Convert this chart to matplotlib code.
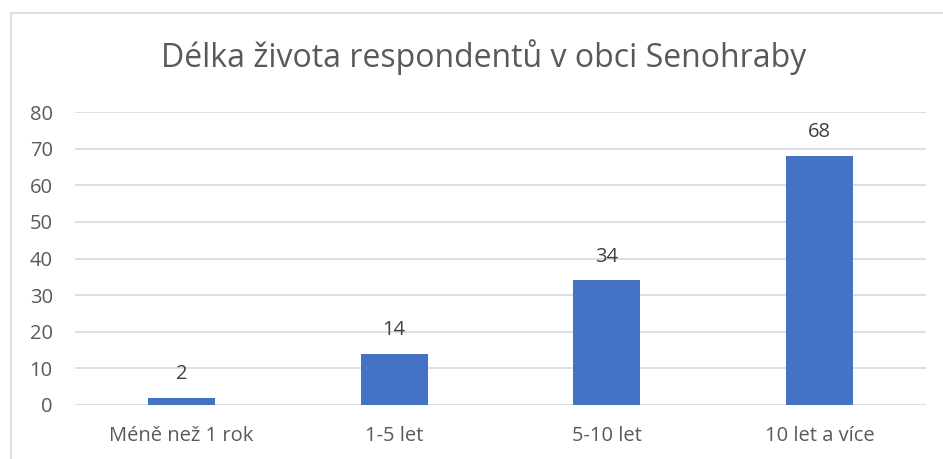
import matplotlib.pyplot as plt
from matplotlib.patches import Rectangle

# data
categories = ['Méně než 1 rok', '1-5 let', '5-10 let', '10 let a více']
values = [2, 14, 34, 68]
yticks = [0, 10, 20, 30, 40, 50, 60, 70, 80]

BAR = '#4472C4'
TEXT = '#595959'
GRID = '#D9D9D9'

plt.rcParams['font.family'] = ['Open Sans', 'DejaVu Sans']

W, H = 943, 459
fig = plt.figure(figsize=(W / 100, H / 100), dpi=100)
ax = fig.add_axes([75 / W, 1 - 405 / H, (926 - 75) / W, (405 - 112) / H])

x = range(len(categories))
bars = ax.bar(x, values, width=0.315, color=BAR, zorder=3)
for xi, v in zip(x, values):
    ax.annotate(str(v), (xi, v), xytext=(0, 10), textcoords='offset points',
                ha='center', va='bottom', fontsize=14.5, color='#404040')

ax.set_xlim(-0.5, len(categories) - 0.5)
ax.set_ylim(0, 80)
ax.set_yticks(yticks)
ax.set_xticks(list(x))
ax.set_xticklabels(categories)
ax.grid(axis='y', color=GRID, linewidth=1.2, zorder=0)
for s in ax.spines.values():
    s.set_visible(False)
ax.tick_params(axis='both', length=0, labelsize=14.5, labelcolor=TEXT)
ax.tick_params(axis='y', pad=16)
ax.tick_params(axis='x', pad=15)

fig.text(484 / W, 1 - 57 / H, 'Délka života respondentů v obci Senohraby',
         ha='center', va='center', fontsize=23, color=TEXT)

# chart area border (extends past the image)
fig.patches.append(Rectangle((11 / W, -0.1), 1.2, 1 - 13 / H + 0.1,
                             transform=fig.transFigure, fill=False,
                             edgecolor=GRID, linewidth=1.2))

fig.savefig('out.png', dpi=100)
